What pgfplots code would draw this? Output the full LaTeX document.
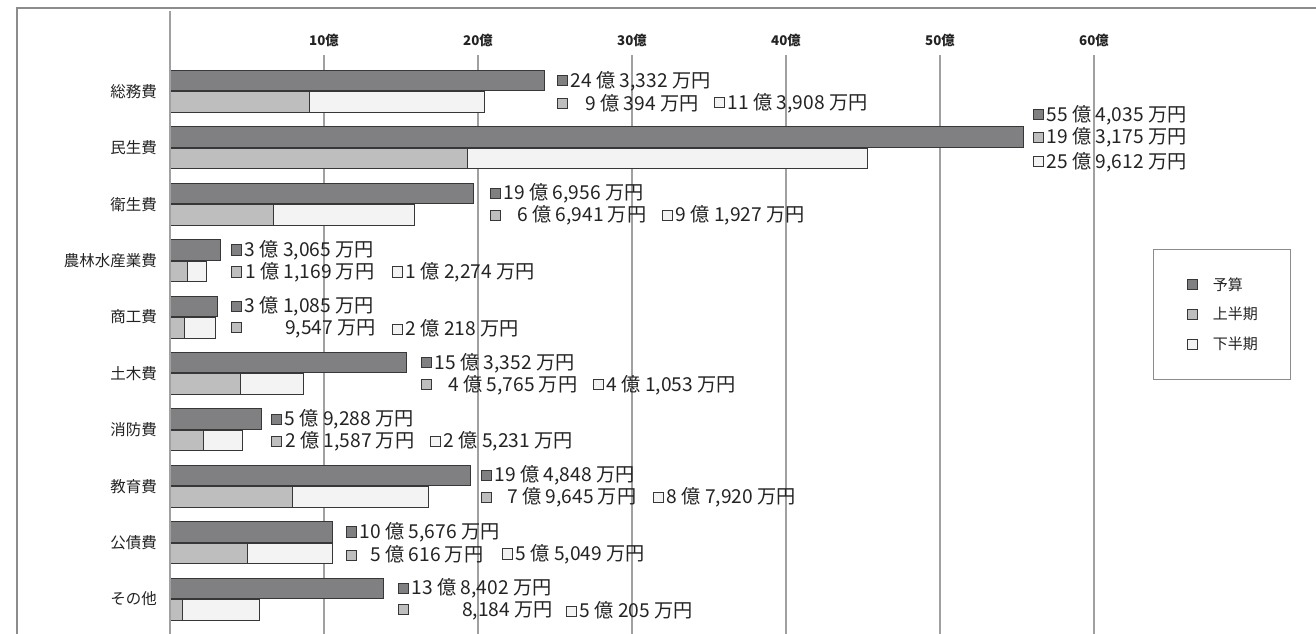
\documentclass[border=0pt]{standalone}
\usepackage{fontspec}
\setmainfont{Noto Sans CJK JP}
\usepackage{pgfplots}
\pgfplotsset{compat=1.18}
\usepackage{pgfplotstable}

\newlength\px
\setlength\px{0.75pt}

\definecolor{barA}{RGB}{128,128,131}
\definecolor{barB}{RGB}{190,190,190}
\definecolor{barC}{RGB}{243,243,243}
\definecolor{edge}{RGB}{55,55,55}
\definecolor{gridc}{RGB}{160,160,160}
\definecolor{framec}{RGB}{140,140,140}
\definecolor{txt}{RGB}{35,35,35}

% k: row from the bottom; values in 億円
\pgfplotstableread{
k yosan kami shimo
9 24.3332 9.0394 11.3908
8 55.4035 19.3175 25.9612
7 19.6956 6.6941 9.1927
6 3.3065 1.1169 1.2274
5 3.1085 0.9547 2.0218
4 15.3352 4.5765 4.1053
3 5.9288 2.1587 2.5231
2 19.4848 7.9645 8.7920
1 10.5676 5.0616 5.5049
0 13.8402 0.8184 5.0205
}\budget

\setlength\fboxsep{0pt}
\setlength\fboxrule{0.9\px}
\newcommand\sq[1]{\raisebox{1.8\px}{\fcolorbox{edge}{#1}{\rule{0pt}{9.2\px}\rule{9.2\px}{0pt}}}}

% #1 row, #2 x in pixels, #3 vertical shift in pixels, #4 text
\newcommand\lab[4]{\node[lbl] at (axis cs:0,#1) [xshift={(#2-170)*\px}, yshift={#3*\px}] {#4};}

\begin{document}
\begin{tikzpicture}[lbl/.style={anchor=west, inner sep=0pt, text=txt, font=\fontsize{14.4pt}{16pt}\selectfont}]
\begin{axis}[
  at={(170\px,0)}, anchor=south west,
  width=1146\px, height=579\px, scale only axis,
  xmin=0, xmax=74.416,
  ymin=-0.619, ymax=9.647,
  clip=false,
  axis line style={draw=none},
  major tick length=0pt,
  xtick={10,20,30,40,50,60},
  xticklabels={10億,20億,30億,40億,50億,60億},
  xticklabel pos=upper,
  xticklabel style={font=\bfseries\fontsize{10pt}{12pt}\selectfont, text=txt, yshift=4\px},
  xmajorgrids,
  grid style={gridc, line width=1.3\px},
  ytick={0,...,9},
  yticklabels={その他,公債費,教育費,消防費,土木費,商工費,農林水産業費,衛生費,民生費,総務費},
  yticklabel style={font=\fontsize{11.6pt}{13pt}\selectfont, text=txt, inner sep=0pt, xshift=-13\px},
  legend image code/.code={\draw[#1, draw=edge, line width=0.9\px] (0,-5\px) rectangle (10\px,5\px); \path (25\px,0);},
  legend style={at={(0.8578,0.665)}, anchor=north west, draw=framec, line width=1.3\px,
    inner xsep=33\px, inner ysep=28\px, row sep=15\px,
    nodes={inner sep=0pt, text=txt},
    font=\fontsize{11.25pt}{13pt}\selectfont},
  legend cell align=left,
]
\addplot[xbar, bar width=20.5\px, bar shift=10.75\px, fill=barA, draw=edge, line width=1\px, forget plot]
  table[x=yosan, y=k] {\budget};
\addplot[xbar, bar width=20.5\px, bar shift=-10.75\px, fill=barC, draw=edge, line width=1\px, forget plot]
  table[x expr=\thisrow{kami}+\thisrow{shimo}, y=k] {\budget};
\addplot[xbar, bar width=20.5\px, bar shift=-10.75\px, fill=barB, draw=edge, line width=1\px, forget plot]
  table[x=kami, y=k] {\budget};

\addlegendimage{fill=barA}\addlegendentry{予算}
\addlegendimage{fill=barB}\addlegendentry{上半期}
\addlegendimage{fill=barC}\addlegendentry{下半期}

\draw[gridc, line width=1.3\px] (axis cs:0,-0.619) -- (axis cs:0,9.647) -- ++(0,9\px);

% 総務費
\lab{9}{557}{10.5}{\sq{barA}\hspace{2.5\px}24 億 3,332 万円}
\lab{9}{557}{-11.5}{\sq{barB}\hspace{17\px}9 億 394 万円}
\lab{9}{714}{-11.5}{\sq{barC}\hspace{2.5\px}11 億 3,908 万円}
% 民生費
\lab{8}{1033}{33}{\sq{barA}\hspace{2.5\px}55 億 4,035 万円}
\lab{8}{1033}{10.4}{\sq{barB}\hspace{2.5\px}19 億 3,175 万円}
\lab{8}{1033}{-14}{\sq{barC}\hspace{2.5\px}25 億 9,612 万円}
% 衛生費
\lab{7}{490}{10.5}{\sq{barA}\hspace{2.5\px}19 億 6,956 万円}
\lab{7}{490}{-11.5}{\sq{barB}\hspace{16\px}6 億 6,941 万円}
\lab{7}{662}{-11.5}{\sq{barC}\hspace{2.5\px}9 億 1,927 万円}
% 農林水産業費
\lab{6}{231}{10.5}{\sq{barA}\hspace{2.5\px}3 億 3,065 万円}
\lab{6}{231}{-11.5}{\sq{barB}\hspace{3\px}1 億 1,169 万円}
\lab{6}{392}{-11.5}{\sq{barC}\hspace{2.5\px}1 億 2,274 万円}
% 商工費
\lab{5}{231}{10.5}{\sq{barA}\hspace{2.5\px}3 億 1,085 万円}
\lab{5}{231}{-11.5}{\sq{barB}\hspace{43\px}9,547 万円}
\lab{5}{392}{-11.5}{\sq{barC}\hspace{2.5\px}2 億 218 万円}
% 土木費
\lab{4}{421}{10.5}{\sq{barA}\hspace{2.5\px}15 億 3,352 万円}
\lab{4}{421}{-11.5}{\sq{barB}\hspace{16\px}4 億 5,765 万円}
\lab{4}{593}{-11.5}{\sq{barC}\hspace{2.5\px}4 億 1,053 万円}
% 消防費
\lab{3}{271}{10.5}{\sq{barA}\hspace{2.5\px}5 億 9,288 万円}
\lab{3}{271}{-11.5}{\sq{barB}\hspace{3\px}2 億 1,587 万円}
\lab{3}{430}{-11.5}{\sq{barC}\hspace{2.5\px}2 億 5,231 万円}
% 教育費
\lab{2}{481}{10.5}{\sq{barA}\hspace{2.5\px}19 億 4,848 万円}
\lab{2}{481}{-11.5}{\sq{barB}\hspace{15\px}7 億 9,645 万円}
\lab{2}{653}{-11.5}{\sq{barC}\hspace{2.5\px}8 億 7,920 万円}
% 公債費
\lab{1}{346}{10.5}{\sq{barA}\hspace{2.5\px}10 億 5,676 万円}
\lab{1}{346}{-11.5}{\sq{barB}\hspace{13\px}5 億 616 万円}
\lab{1}{502}{-11.5}{\sq{barC}\hspace{2.5\px}5 億 5,049 万円}
% その他
\lab{0}{398}{10.5}{\sq{barA}\hspace{2.5\px}13 億 8,402 万円}
\lab{0}{398}{-11.5}{\sq{barB}\hspace{53\px}8,184 万円}
\lab{0}{566}{-11.5}{\sq{barC}\hspace{2.5\px}5 億 205 万円}
\end{axis}
\draw[framec, line width=1.5\px] (17\px,0) -- (17\px,626\px) -- (1316\px,626\px);
\pgfresetboundingbox
\useasboundingbox (0,0) rectangle (1316\px,634\px);
\end{tikzpicture}
\end{document}
